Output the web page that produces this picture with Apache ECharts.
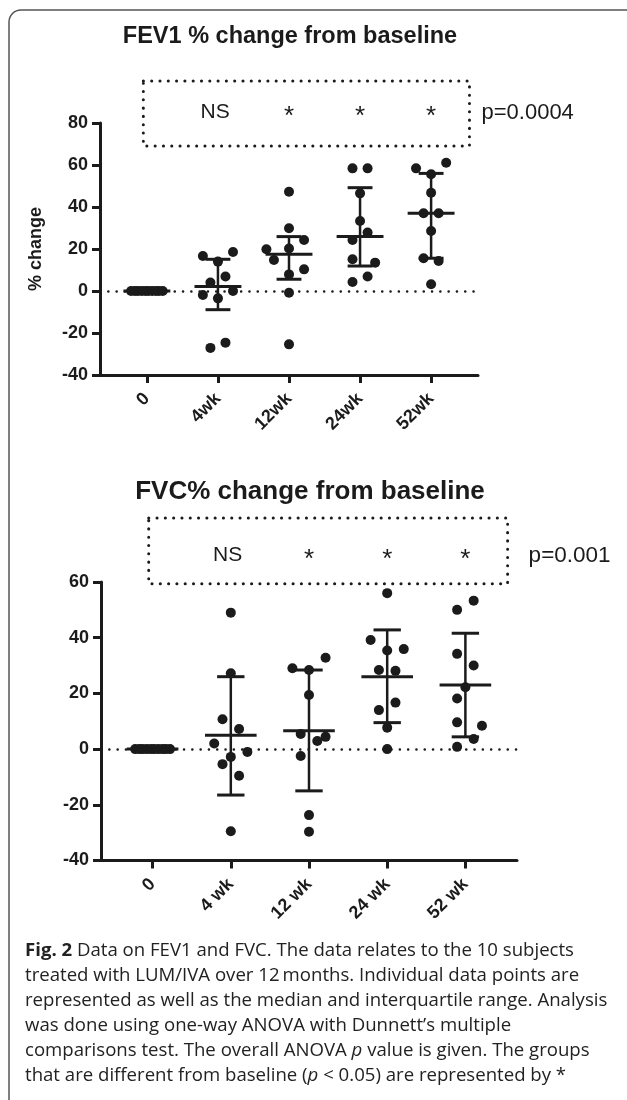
<!DOCTYPE html>
<html>
<head>
<meta charset="utf-8">
<script src="https://cdn.jsdelivr.net/npm/echarts@6/dist/echarts.min.js"></script>
<style>
  html, body { margin: 0; padding: 0; background: #fff; }
  #chart { width: 627px; height: 1100px; }
</style>
</head>
<body>
<div id="chart"></div>
<script>
var fev1Labels = ['0', '4wk', '12wk', '24wk', '52wk'];
var fvcLabels = ['0', '4 wk', '12 wk', '24 wk', '52 wk'];

// FEV1 % change from baseline, one list of 10 subjects per visit
var fev1Values = [
    [0, 0, 0, 0, 0, 0, 0, 0, 0, 0],
    [16.7, 18.6, 14.0, 6.9, 4.0, -1.9, 0.0, -3.5, -24.6, -27.1],
    [47.3, 29.9, 24.3, 20.2, 19.9, 14.8, 10.3, 7.9, -0.8, -25.4],
    [58.4, 58.4, 46.5, 33.3, 27.8, 24.3, 15.1, 13.5, 6.9, 4.3],
    [61.1, 58.4, 55.6, 46.8, 37.0, 37.0, 28.6, 15.6, 14.3, 3.2]
];
// column-scatter slot of each dot (how GraphPad spread the overlapping ones)
var fev1Slots = [
    [-2.1, -1.6, -1.2, -0.7, -0.2, 0.2, 0.7, 1.2, 1.6, 2.1],
    [-2, 2, 0, 1, -1, -2, 2, 0, 1, -1],
    [0, 0, 2, 0, -3, -2, 2, 0, 0, 0],
    [-1, 1, 0, 0, 1, -1, -1, 2, 1, -1],
    [2, -2, 0, 0, -1, 1, 0, -1, 1, 0]
];
var fev1Median = [0, 2.2, 17.5, 25.9, 37.0];
var fev1Q1 = [0, -8.9, 5.6, 11.9, 15.6];
var fev1Q3 = [0, 15.1, 25.9, 49.2, 56.0];

// FVC % change from baseline
var fvcValues = [
    [0, 0, 0, 0, 0, 0, 0, 0, 0, 0],
    [49.0, 27.2, 10.7, 7.2, 2.0, -1.0, -2.8, -5.4, -9.6, -29.5],
    [32.8, 29.0, 28.4, 19.4, 5.4, 4.4, 2.9, -2.5, -23.7, -29.7],
    [56.0, 39.2, 35.9, 35.4, 28.4, 28.1, 16.7, 14.0, 7.7, 0.0],
    [53.3, 50.0, 34.2, 30.0, 22.2, 18.2, 9.6, 8.4, 3.6, 0.8]
];
var fvcSlots = [
    [-2.1, -1.6, -1.2, -0.7, -0.2, 0.2, 0.7, 1.2, 1.6, 2.1],
    [0, 0, -1, 1, -2, 2, 0, -1, 1, 0],
    [2, -2, 0, 0, -1, 2, 1, -1, 0, 0],
    [0, -2, 2, 0, -1, 1, 1, -1, 0, 0],
    [1, -1, -1, 1, 0, -1, -1, 2, 1, -1]
];
var fvcMedian = [0, 5.0, 6.6, 26.0, 23.0];
var fvcQ1 = [0, -16.5, -15.0, 9.5, 4.4];
var fvcQ3 = [0, 26.0, 28.4, 42.8, 41.6];

var fev1Tests = ['', 'NS', '*', '*', '*'];
var fvcTests = ['', 'NS', '*', '*', '*'];
var fev1P = 'p=0.0004';
var fvcP = 'p=0.001';

var INK = '#1b1b1b';
var AXIS_FONT = '"Liberation Sans", Arial, sans-serif';
var SLOT = 0.106;   // one dot step, in category units

var chart = echarts.init(document.getElementById('chart'));

function scatterData(values, slots) {
    var out = [];
    values.forEach(function (list, g) {
        list.forEach(function (v, k) {
            out.push([g + slots[g][k] * SLOT, v]);
        });
    });
    return out;
}

function barData(med, q1, q3) {
    return med.map(function (m, i) { return [i, m, q1[i], q3[i]]; });
}

function renderBars(params, api) {
    var i = api.value(0);
    var unit = api.size([1, 0])[0];
    var m = api.coord([i, api.value(1)]);
    var lo = api.coord([i, api.value(2)]);
    var hi = api.coord([i, api.value(3)]);
    var mw = unit * 0.33, cw = unit * 0.175;
    var thick = { stroke: INK, lineWidth: 3 };
    return {
        type: 'group',
        children: [
            { type: 'line', shape: { x1: lo[0], y1: lo[1], x2: hi[0], y2: hi[1] }, style: { stroke: INK, lineWidth: 2.5 } },
            { type: 'line', shape: { x1: hi[0] - cw, y1: hi[1], x2: hi[0] + cw, y2: hi[1] }, style: thick },
            { type: 'line', shape: { x1: lo[0] - cw, y1: lo[1], x2: lo[0] + cw, y2: lo[1] }, style: thick },
            { type: 'line', shape: { x1: m[0] - mw, y1: m[1], x2: m[0] + mw, y2: m[1] }, style: thick }
        ]
    };
}

// dotted box holding the post-hoc test marks, plus the ANOVA p value
function makeAnnot(tests, pText, yTop, yBottom, yText, pGap, pSize) {
    return function (params, api) {
        var tl = api.coord([-0.05, yTop]);
        var br = api.coord([4.54, yBottom]);
        var kids = [{
            type: 'rect',
            shape: { x: tl[0], y: tl[1], width: br[0] - tl[0], height: br[1] - tl[1] },
            style: { fill: 'none', stroke: INK, lineWidth: 3, lineDash: [0.1, 8.2], lineCap: 'round' }
        }];
        tests.forEach(function (t, i) {
            if (!t) return;
            var p = api.coord([i - (t === 'NS' ? 0.04 : 0), yText]);
            kids.push({
                type: 'text', x: p[0], y: p[1] + (t === '*' ? 4 : 0),
                style: { text: t, font: (t === '*' ? '26px ' : '21px ') + AXIS_FONT, fill: INK, align: 'center', verticalAlign: 'middle' }
            });
        });
        var pp = api.coord([4.54, yText]);
        kids.push({
            type: 'text', x: pp[0] + pGap, y: pp[1],
            style: { text: pText, font: pSize + 'px ' + AXIS_FONT, fill: INK, align: 'left', verticalAlign: 'middle' }
        });
        return { type: 'group', children: kids };
    };
}

function xAxisFor(labels, grid) {
    return {
        type: 'value', gridIndex: grid, min: -0.66, max: 4.66,
        axisLine: { onZero: false, lineStyle: { color: INK, width: 3 } },
        axisTick: { customValues: [0, 1, 2, 3, 4], length: 8, lineStyle: { color: INK, width: 3 } },
        axisLabel: {
            customValues: [0, 1, 2, 3, 4], rotate: 45, margin: 21,
            fontFamily: AXIS_FONT, fontWeight: 'bold', fontSize: 18, color: INK,
            formatter: function (v) { return labels[Math.round(v)]; }
        },
        splitLine: { show: false }
    };
}

function yAxisFor(min, max, grid, name) {
    return {
        type: 'value', gridIndex: grid, min: min, max: max, interval: 20,
        name: name, nameLocation: 'middle', nameGap: 55,
        nameTextStyle: { fontFamily: AXIS_FONT, fontWeight: 'bold', fontSize: 18, color: INK },
        axisLine: { show: true, onZero: false, lineStyle: { color: INK, width: 3 } },
        axisTick: { show: true, length: 8, lineStyle: { color: INK, width: 3 } },
        axisLabel: { margin: 12, fontFamily: AXIS_FONT, fontWeight: 'bold', fontSize: 18, color: INK },
        splitLine: { show: false }
    };
}

var zeroLine = {
    silent: true, symbol: 'none', label: { show: false },
    lineStyle: { color: INK, width: 2.5, type: [0.1, 8.2], cap: 'round' },
    data: [{ yAxis: 0 }]
};

var CAP_FONT = '"Open Sans", sans-serif';
var CAP_SIZE = 18.6;
var captionLines = [
    '{b|Fig. 2} Data on FEV1 and FVC. The data relates to the 10 subjects',
    'treated with LUM/IVA over 12\u2009months. Individual data points are',
    'represented as well as the median and interquartile range. Analysis',
    'was done using one-way ANOVA with Dunnett\u2019s multiple',
    'comparisons test. The overall ANOVA {i|p} value is given. The groups',
    'that are different from baseline ({i|p} < 0.05) are represented by *'
];

var option = {
    animation: false,
    backgroundColor: '#fff',
    grid: [
        { left: 100, top: 123, width: 378, height: 252 },
        { left: 101, top: 582, width: 416, height: 278.5 }
    ],
    xAxis: [xAxisFor(fev1Labels, 0), xAxisFor(fvcLabels, 1)],
    yAxis: [yAxisFor(-40, 80, 0, '% change'), yAxisFor(-40, 60, 1, '')],
    graphic: [
        {
            type: 'rect', silent: true,
            shape: { x: 9, y: 10, width: 650, height: 1110, r: 12 },
            style: { fill: 'none', stroke: '#555', lineWidth: 1.5 }
        },
        {
            type: 'text', x: 290, y: 37,
            style: { text: 'FEV1 % change from baseline', font: 'bold 23.5px ' + AXIS_FONT, fill: INK, align: 'center', verticalAlign: 'middle' }
        },
        {
            type: 'text', x: 310, y: 492,
            style: { text: 'FVC% change from baseline', font: 'bold 26px ' + AXIS_FONT, fill: INK, align: 'center', verticalAlign: 'middle' }
        }
    ].concat(captionLines.map(function (line, i) {
        return {
            type: 'text', x: 25, y: 951 + i * 25,
            style: {
                text: line, font: CAP_SIZE + 'px ' + CAP_FONT, fill: '#222', verticalAlign: 'middle',
                rich: {
                    b: { fontFamily: 'Open Sans', fontWeight: 'bold', fontSize: CAP_SIZE, fill: '#222' },
                    i: { fontFamily: 'Open Sans', fontStyle: 'italic', fontSize: CAP_SIZE, fill: '#222' }
                }
            }
        };
    })),
    series: [
        {
            type: 'scatter', xAxisIndex: 0, yAxisIndex: 0,
            symbolSize: 10, itemStyle: { color: INK, opacity: 1 },
            data: scatterData(fev1Values, fev1Slots),
            markLine: zeroLine, z: 2
        },
        {
            type: 'custom', xAxisIndex: 0, yAxisIndex: 0, z: 3,
            data: barData(fev1Median, fev1Q1, fev1Q3), renderItem: renderBars
        },
        {
            type: 'custom', xAxisIndex: 0, yAxisIndex: 0, clip: false, silent: true,
            data: [[0, 0]], renderItem: makeAnnot(fev1Tests, fev1P, 100, 69, 85, 12, 22)
        },
        {
            type: 'scatter', xAxisIndex: 1, yAxisIndex: 1,
            symbolSize: 10, itemStyle: { color: INK, opacity: 1 },
            data: scatterData(fvcValues, fvcSlots),
            markLine: zeroLine, z: 2
        },
        {
            type: 'custom', xAxisIndex: 1, yAxisIndex: 1, z: 3,
            data: barData(fvcMedian, fvcQ1, fvcQ3), renderItem: renderBars
        },
        {
            type: 'custom', xAxisIndex: 1, yAxisIndex: 1, clip: false, silent: true,
            data: [[0, 0]], renderItem: makeAnnot(fvcTests, fvcP, 83, 59.4, 69.5, 21, 22.5)
        }
    ]
};

chart.setOption(option);
</script>
</body>
</html>
